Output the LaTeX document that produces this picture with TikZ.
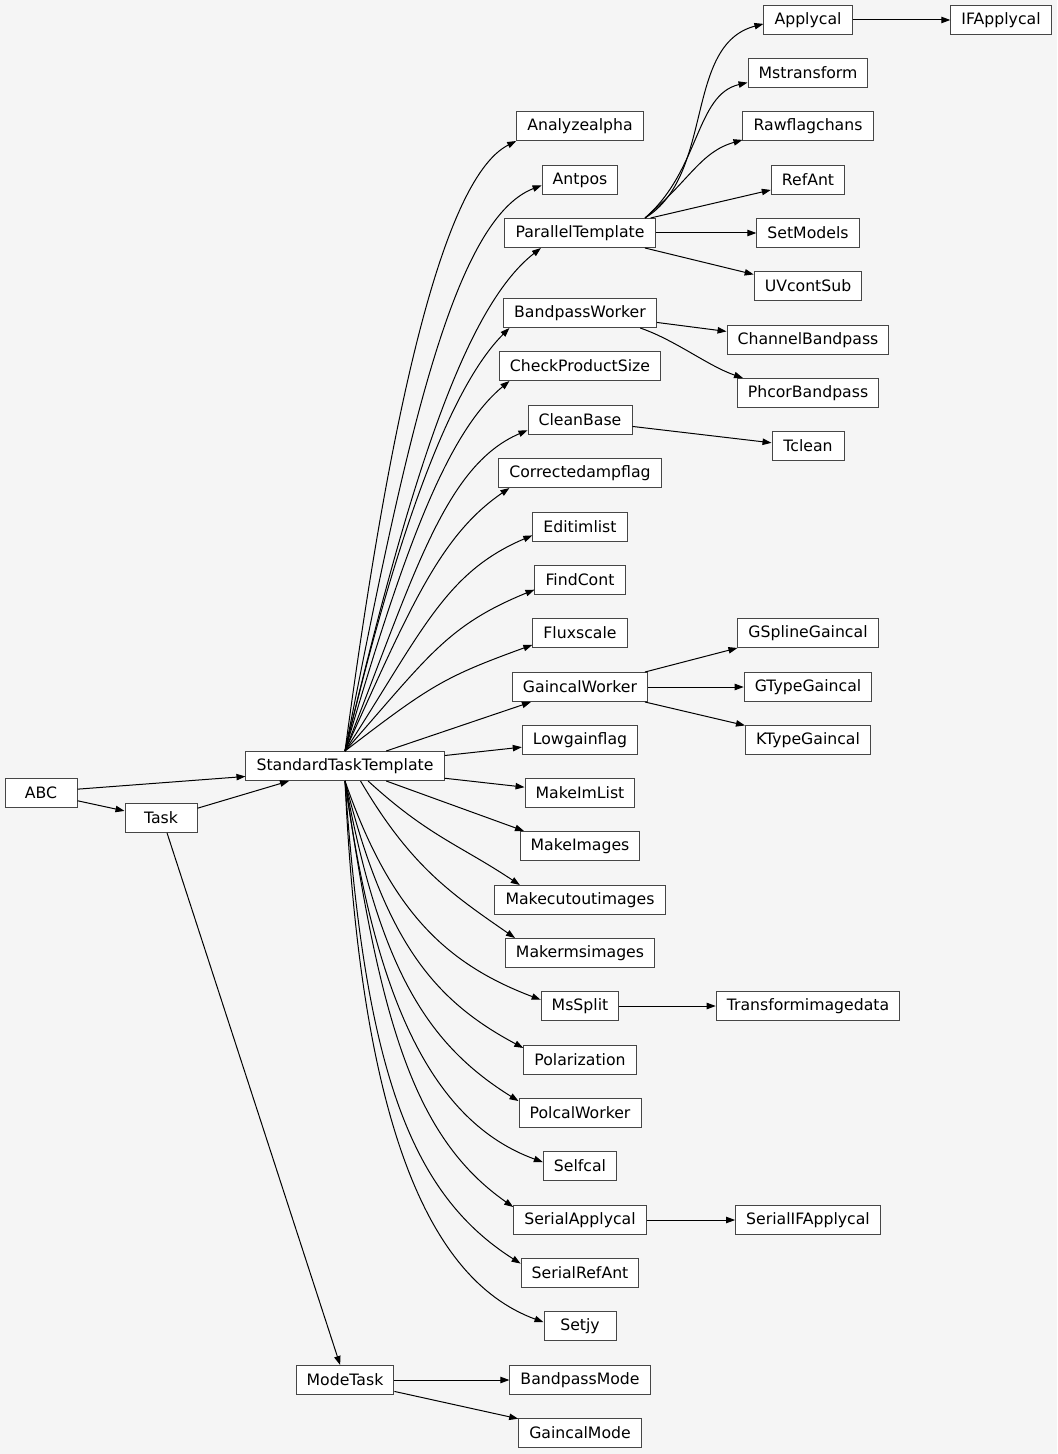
\documentclass[tikz,border=0pt]{standalone}
\usepackage{fontspec}
\setmainfont{DejaVu Sans}
\usepackage{tikz}
\usepackage{xcolor}
\usetikzlibrary{arrows.meta}
\definecolor{bggray}{RGB}{245,245,245}
\definecolor{edgegray}{RGB}{70,70,70}

\begin{document}
\begin{tikzpicture}[
      x=0.5pt, y=-0.5pt,
      cls/.style={rectangle,draw=edgegray,fill=white,line width=0.5pt,minimum height=14.5pt,minimum width=36pt,inner xsep=5.3pt,inner ysep=0pt,font=\fontsize{7.85}{9}\selectfont},
      arrow/.style={-{Triangle[length=4.5pt,width=3.2pt]},line width=0.5pt}
    ]
    \fill[bggray] (0,0) rectangle (1057,1454);
    % roots
    \node[cls] (abc) at (41,793) {ABC};
    \node[cls] (task) at (161,818) {Task};
    \node[cls] (stt) at (345,766) {StandardTaskTemplate};
    \node[cls] (modetask) at (345,1380) {ModeTask};
    % direct subclasses
    \node[cls] (analyzealpha) at (580,126) {Analyzealpha};
    \node[cls] (antpos) at (580,180) {Antpos};
    \node[cls] (partempl) at (580,233) {ParallelTemplate};
    \node[cls] (bpworker) at (580,313) {BandpassWorker};
    \node[cls] (checksize) at (580,366) {CheckProductSize};
    \node[cls] (cleanbase) at (580,420) {CleanBase};
    \node[cls] (corramp) at (580,473) {Correctedampflag};
    \node[cls] (editim) at (580,527) {Editimlist};
    \node[cls] (findcont) at (580,580) {FindCont};
    \node[cls] (fluxscale) at (580,633) {Fluxscale};
    \node[cls] (gcworker) at (580,687) {GaincalWorker};
    \node[cls] (lowgain) at (580,740) {Lowgainflag};
    \node[cls] (makeimlist) at (580,793) {MakeImList};
    \node[cls] (makeimages) at (580,846) {MakeImages};
    \node[cls] (makecutout) at (580,900) {Makecutoutimages};
    \node[cls] (makerms) at (580,953) {Makermsimages};
    \node[cls] (mssplit) at (580,1006) {MsSplit};
    \node[cls] (polarization) at (580,1060) {Polarization};
    \node[cls] (polcal) at (580,1113) {PolcalWorker};
    \node[cls] (selfcal) at (580,1166) {Selfcal};
    \node[cls] (serapply) at (580,1220) {SerialApplycal};
    \node[cls] (serrefant) at (580,1273) {SerialRefAnt};
    \node[cls] (setjy) at (580,1326) {Setjy};
    \node[cls] (bpmode) at (580,1380) {BandpassMode};
    \node[cls] (gcmode) at (580,1433) {GaincalMode};
    % second level
    \node[cls] (applycal) at (808,20) {Applycal};
    \node[cls] (mstransform) at (808,73) {Mstransform};
    \node[cls] (rawflag) at (808,126) {Rawflagchans};
    \node[cls] (refant) at (808,180) {RefAnt};
    \node[cls] (setmodels) at (808,233) {SetModels};
    \node[cls] (uvcontsub) at (808,286) {UVcontSub};
    \node[cls] (chanbp) at (808,340) {ChannelBandpass};
    \node[cls] (phcorbp) at (808,393) {PhcorBandpass};
    \node[cls] (tclean) at (808,446) {Tclean};
    \node[cls] (gspline) at (808,633) {GSplineGaincal};
    \node[cls] (gtype) at (808,687) {GTypeGaincal};
    \node[cls] (ktype) at (808,740) {KTypeGaincal};
    \node[cls] (transform) at (808,1006) {Transformimagedata};
    \node[cls] (serifapply) at (808,1220) {SerialIFApplycal};
    \node[cls] (ifapplycal) at (1001,20) {IFApplycal};
    % inheritance edges
    \draw[arrow] (abc.6) -- (stt.186);
    \draw[arrow] (abc.-12) -- (task.169);
    \draw[arrow] (task.15) -- (stt.195);
    \draw[arrow] (task.-68) -- (modetask.108);
    \draw[arrow] (stt.north) .. controls +(42,-314) and +(-77,39) .. (analyzealpha.south west);
    \draw[arrow] (stt.north) .. controls +(58,-293) and +(-91,35) .. (antpos.188);
    \draw[arrow] (stt.north) .. controls +(63,-263) and +(-78,61) .. (partempl.201);
    \draw[arrow] (stt.north) .. controls +(53,-222) and +(-59,59) .. (bpworker.192);
    \draw[arrow] (stt.north) .. controls +(57,-195) and +(-64,53) .. (checksize.192);
    \draw[arrow] (stt.north) .. controls +(68,-172) and +(-84,36) .. (cleanbase.191);
    \draw[arrow] (stt.north) .. controls +(65,-143) and +(-70,48) .. (corramp.192);
    \draw[arrow] (stt.north) .. controls +(78,-121) and +(-87,37) .. (editim.190);
    \draw[arrow] (stt.north) .. controls +(83,-94) and +(-88,36) .. (findcont.192);
    \draw[arrow] (stt.north) .. controls +(86,-66) and +(-88,32) .. (fluxscale.194);
    \draw[arrow] (stt.20) -- (gcworker.197);
    \draw[arrow] (stt.6) -- (lowgain.187);
    \draw[arrow] (stt.-7) -- (makeimlist.174);
    \draw[arrow] (stt.-20) -- (makeimages.165);
    \draw[arrow] (stt.-33) .. controls +(60,55) and +(-60,-40) .. (makecutout.166);
    \draw[arrow] (stt.-44) .. controls +(50,85) and +(-65,-45) .. (makerms.167);
    \draw[arrow] (stt.south) .. controls +(45,130) and +(-95,-36) .. (mssplit.171);
    \draw[arrow] (stt.south) .. controls +(40,160) and +(-90,-48) .. (polarization.168);
    \draw[arrow] (stt.south) .. controls +(35,190) and +(-90,-56) .. (polcal.169);
    \draw[arrow] (stt.south) .. controls +(30,220) and +(-110,-40) .. (selfcal.174);
    \draw[arrow] (stt.south) .. controls +(35,240) and +(-100,-70) .. (serapply.169);
    \draw[arrow] (stt.south) .. controls +(20,290) and +(-110,-70) .. (serrefant.171);
    \draw[arrow] (stt.south) .. controls +(15,330) and +(-120,-44) .. (setjy.174);
    \draw[arrow] (partempl.13) .. controls +(70,-43) and +(-80,21) .. (applycal.185);
    \draw[arrow] (partempl.13) .. controls +(55,-48) and +(-52,12) .. (mstransform.189);
    \draw[arrow] (partempl.13) .. controls +(45,-38) and +(-42,12) .. (rawflag.192);
    \draw[arrow] (partempl.12) -- (refant.195);
    \draw[arrow] (partempl) -- (setmodels);
    \draw[arrow] (partempl.-13) -- (uvcontsub.168);
    \draw[arrow] (bpworker.-7) -- (chanbp.174);
    \draw[arrow] (bpworker.-14) .. controls +(35,12) and +(-35,-12) .. (phcorbp.167);
    \draw[arrow] (cleanbase.-7) -- (tclean.175);
    \draw[arrow] (gcworker.13) -- (gspline.192);
    \draw[arrow] (gcworker) -- (gtype);
    \draw[arrow] (gcworker.-13) -- (ktype.167);
    \draw[arrow] (mssplit) -- (transform);
    \draw[arrow] (serapply) -- (serifapply);
    \draw[arrow] (applycal) -- (ifapplycal);
    \draw[arrow] (modetask) -- (bpmode);
    \draw[arrow] (modetask.-13) -- (gcmode.167);
  \end{tikzpicture}
\end{document}
